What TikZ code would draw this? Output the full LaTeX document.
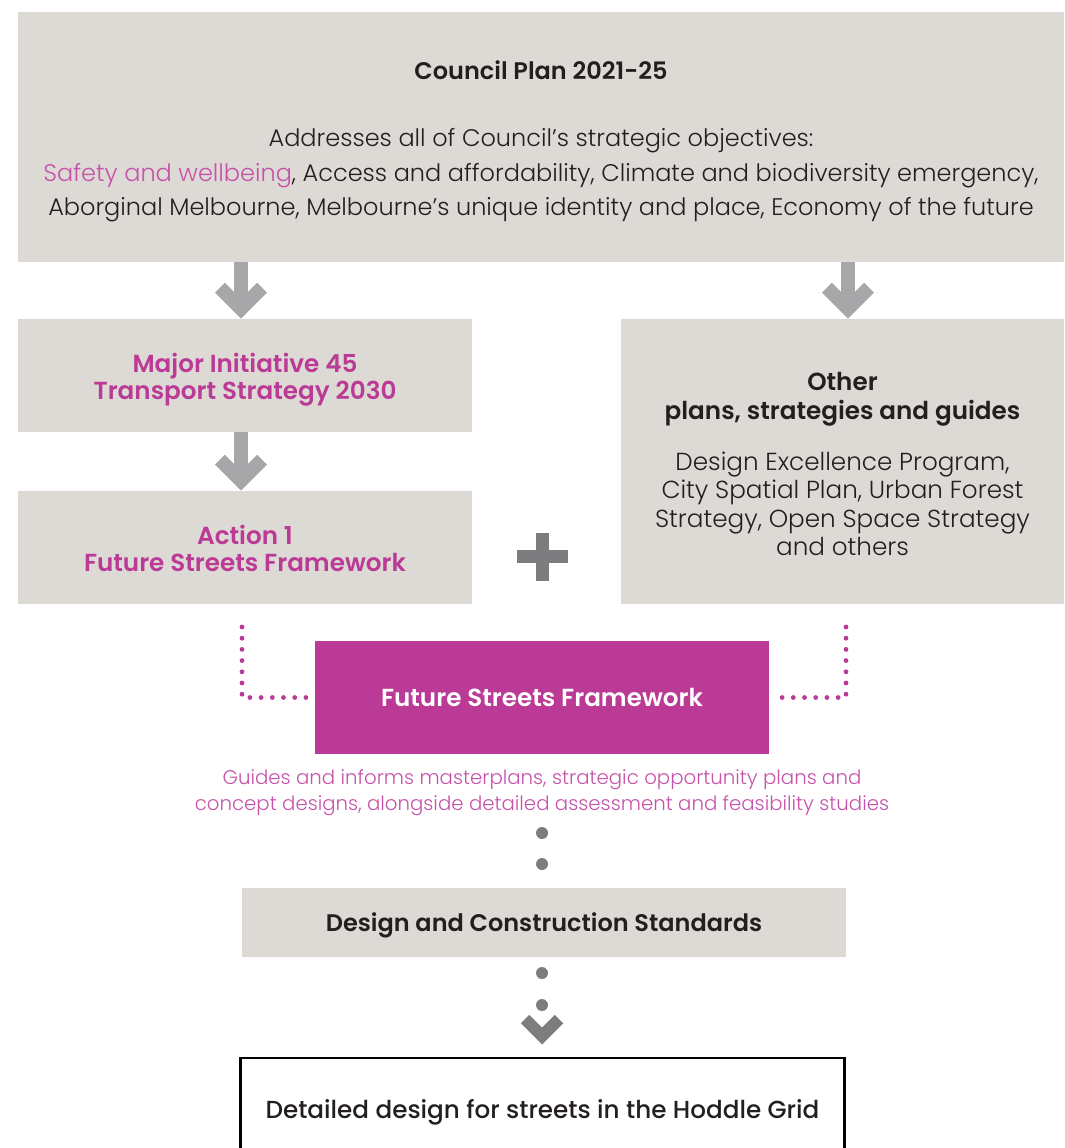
\documentclass[tikz,border=0pt]{standalone}
\usepackage{fontspec}
\setmainfont{Poppins Light}[BoldFont={Poppins SemiBold}]
\newfontfamily\mediumfont{Poppins Medium}
\usetikzlibrary{positioning}

\definecolor{boxgrey}{HTML}{DDDAD6}
\definecolor{arrowgrey}{HTML}{A7A7A9}
\definecolor{dotgrey}{HTML}{7D7D7F}
\definecolor{fsfpink}{HTML}{BB3A96}
\definecolor{lightpink}{HTML}{C652AA}
\definecolor{textblack}{HTML}{231F20}

\begin{document}
\begin{tikzpicture}[
  x=0.75pt, y=-0.75pt,
  every node/.style={
    inner sep=0pt, align=center,
    text=textblack,
    font=\fontsize{18}{25.9}\selectfont
  },
  greybox/.style 2 args={
    rectangle, fill=boxgrey,
    minimum width=#1*0.75pt, minimum height=#2*0.75pt
  },
  pinktitle/.style={text=fsfpink, font=\fontsize{18.5}{20.5}\bfseries,
    text height=36.3pt, text depth=0pt},
  garrow/.style={draw=arrowgrey, line width=10.5pt, line join=miter},
  pinkdots/.style={draw=fsfpink, line width=3.6pt, line cap=round,
    dash pattern=on 0pt off 8.4pt},
  dot/.style={circle, fill=dotgrey, minimum size=9pt}
]
\useasboundingbox (0,0) rectangle (1064,1148);

% boxes
\node[greybox={1046}{250}, text height=118.5pt, text depth=0pt] (council) at (541,137)
  {\bfseries Council Plan 2021-25\\[24.4pt]
   Addresses all of Council’s strategic objectives:\\
   \textcolor{lightpink}{Safety and wellbeing}, Access and affordability, Climate and biodiversity emergency,\\
   Aborginal Melbourne, Melbourne’s unique identity and place, Economy of the future};
\node[greybox={454}{113}, pinktitle] (major) at (245,375.5)
  {Major Initiative 45\\Transport Strategy 2030};
\node[greybox={454}{113}, pinktitle] (action) at (245,547.5)
  {Action 1\\Future Streets Framework};
\node[greybox={443}{285}, font=\fontsize{18.5}{21.4}\selectfont,
  text height=141.5pt, text depth=0pt] (other) at (842.5,461.5)
  {\bfseries Other\\\bfseries plans, strategies and guides\\[16.9pt]
   Design Excellence Program,\\City Spatial Plan, Urban Forest\\
   Strategy, Open Space Strategy\\and others};
\node[rectangle, fill=fsfpink, text=white, font=\fontsize{18.5}{21}\bfseries,
  minimum width=454*0.75pt, minimum height=113*0.75pt] (fsf) at (542,697.5)
  {Future Streets Framework};
\node[text=lightpink, font=\fontsize{14.8}{19.5}\selectfont] (guides) at (542,793)
  {Guides and informs masterplans, strategic opportunity plans and\\
   concept designs, alongside detailed assessment and feasibility studies};
\node[greybox={604}{69}, font=\fontsize{18}{21}\bfseries, text depth=0pt] (dcs) at (544,922.5)
  {Design and Construction Standards};
\node[rectangle, draw=black, line width=1.6pt, font=\fontsize{18.5}{21}\mediumfont,
  text depth=0pt, minimum width=604*0.75pt, minimum height=102*0.75pt] (detail) at (542.5,1109)
  {Detailed design for streets in the Hoddle Grid};

% grey arrows
\foreach \a/\b/\x in {council/major/241, council/other/848, major/action/241}{
  \draw[garrow] (\x,0 |- \a.south) -- ([yshift=9pt]\x,0 |- \b.north);
  \draw[garrow] (\x,0 |- \b.north) ++(-21,-31) -- ++(21,21) -- ++(21,-21);
}

% plus
\draw[draw=dotgrey, line width=9.8pt] (517,556.5) -- (568,556.5);
\draw[draw=dotgrey, line width=9.8pt] (542.5,533) -- (542.5,581);

% dotted links into the framework
\coordinate (dl) at (242,627);
\coordinate (dr) at (846,627);
\draw[pinkdots] (dl) |- ([xshift=-4pt]fsf.west);
\draw[pinkdots] (dr) |- ([xshift=4pt]fsf.east);

% dots down to the standards
\node[dot] (d1) at (542,833) {};
\node[dot] (d2) at (542,864) {};
\node[dot] (d3) at (542,973) {};
\node[dot] (d4) at (542,1005) {};
\draw[garrow, draw=dotgrey, line width=9pt] (525,1019) -- (542,1036) -- (559,1019);
\end{tikzpicture}
\end{document}
